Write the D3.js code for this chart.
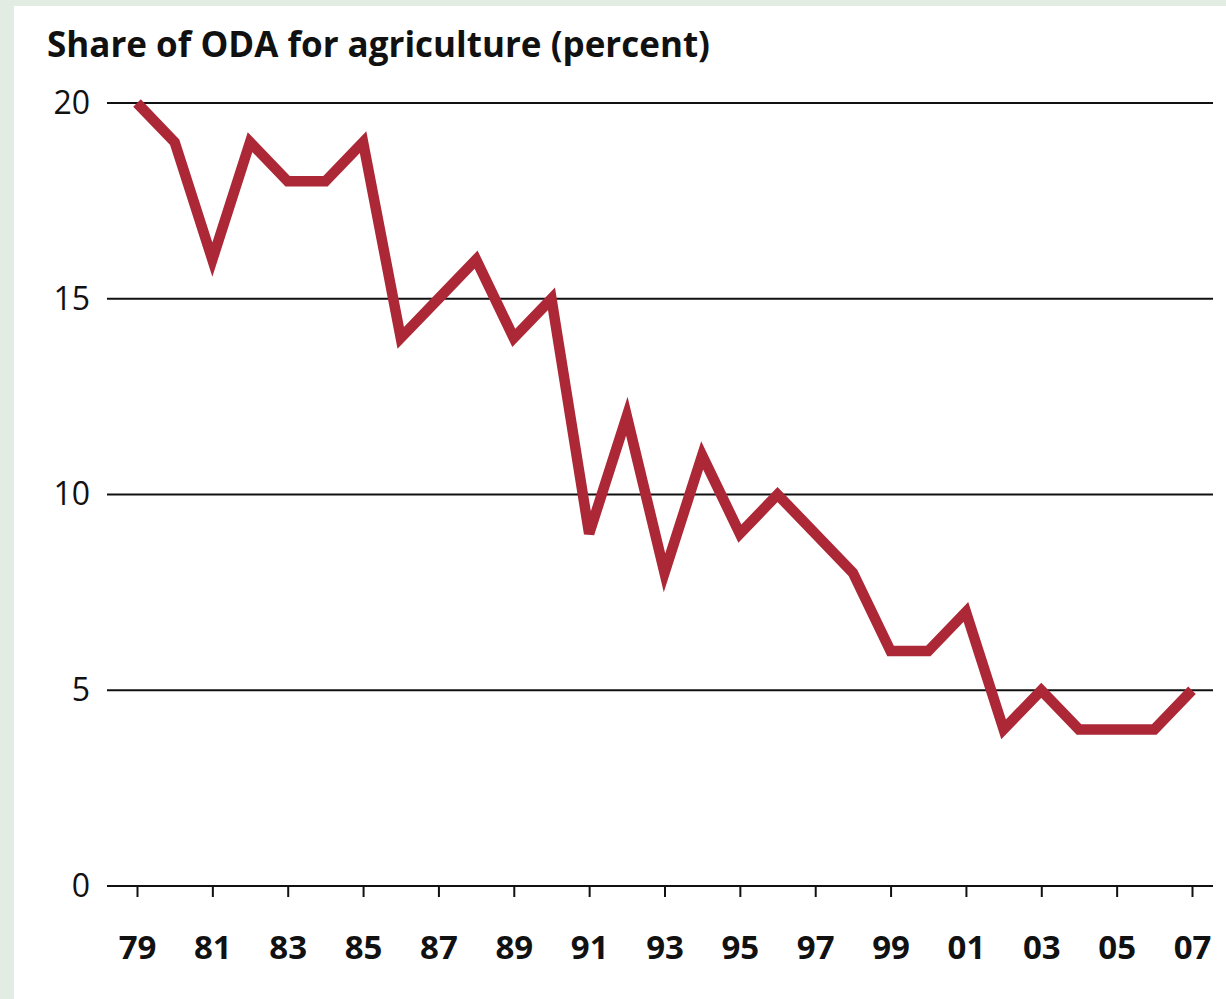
<!DOCTYPE html>
<html>
<head>
<meta charset="utf-8">
<script src="https://cdn.jsdelivr.net/npm/d3@7"></script>
<style>
  html, body { margin: 0; padding: 0; background: #e3ece3; }
  svg { display: block; }
</style>
</head>
<body>
<svg id="chart" width="1226" height="999"></svg>
<script>
const years = [1979,1980,1981,1982,1983,1984,1985,1986,1987,1988,1989,1990,1991,1992,1993,1994,1995,1996,1997,1998,1999,2000,2001,2002,2003,2004,2005,2006,2007];
const share = [20,19,16,19,18,18,19,14,15,16,14,15,9,12,8,11,9,10,9,8,6,6,7,4,5,4,4,4,5];
const yTicks = [0,5,10,15,20];
const xTicks = [1979,1981,1983,1985,1987,1989,1991,1993,1995,1997,1999,2001,2003,2005,2007];
const xTickLabels = ["79","81","83","85","87","89","91","93","95","97","99","01","03","05","07"];
const title = "Share of ODA for agriculture (percent)";

const svg = d3.select("#chart");
svg.append("rect").attr("x", 14).attr("y", 6).attr("width", 1212).attr("height", 993).attr("fill", "#ffffff");

const x = d3.scaleLinear().domain([1979, 2007]).range([137, 1192]);
const y = d3.scaleLinear().domain([0, 20]).range([886, 103]);
const gridX0 = 107, gridX1 = 1213;

// gridlines
svg.append("g").selectAll("line").data(yTicks.filter(d => d > 0)).join("line")
  .attr("x1", gridX0).attr("x2", gridX1)
  .attr("y1", d => y(d)).attr("y2", d => y(d))
  .attr("stroke", "#111").attr("stroke-width", 2);

// x axis
const xAxis = d3.axisBottom(x).tickValues(xTicks).tickSize(11)
  .tickFormat((d, i) => xTickLabels[i]);
const gx = svg.append("g").attr("transform", `translate(0,${y(0)})`).call(xAxis);
gx.select(".domain").remove();
gx.selectAll(".tick line").attr("stroke", "#111").attr("stroke-width", 2);
gx.selectAll(".tick text").attr("fill", "#111").attr("y", 73).attr("dy", 0)
  .style("font-family", "'Open Sans', sans-serif").style("font-size", "33px").style("font-weight", 700);
svg.append("line").attr("x1", gridX0).attr("x2", gridX1).attr("y1", y(0)).attr("y2", y(0))
  .attr("stroke", "#111").attr("stroke-width", 2);

// y labels
const yAxis = d3.axisLeft(y).tickValues(yTicks).tickSize(0).tickPadding(0);
const gy = svg.append("g").attr("transform", "translate(90,0)").call(yAxis);
gy.select(".domain").remove();
gy.selectAll(".tick text").attr("fill", "#111")
  .style("font-family", "'Open Sans', sans-serif").style("font-size", "32px").style("font-weight", 400);

// line
const line = d3.line().x((d, i) => x(years[i])).y(d => y(d));
svg.append("path").datum(share).attr("d", line)
  .attr("fill", "none").attr("stroke", "#ad2837").attr("stroke-width", 10.5)
  .attr("stroke-linejoin", "miter").attr("stroke-linecap", "butt");

// title
svg.append("text").attr("x", 47).attr("y", 57).text(title)
  .attr("fill", "#111")
  .style("font-family", "'Open Sans', sans-serif").style("font-size", "35px").style("font-weight", 700);
</script>
</body>
</html>
